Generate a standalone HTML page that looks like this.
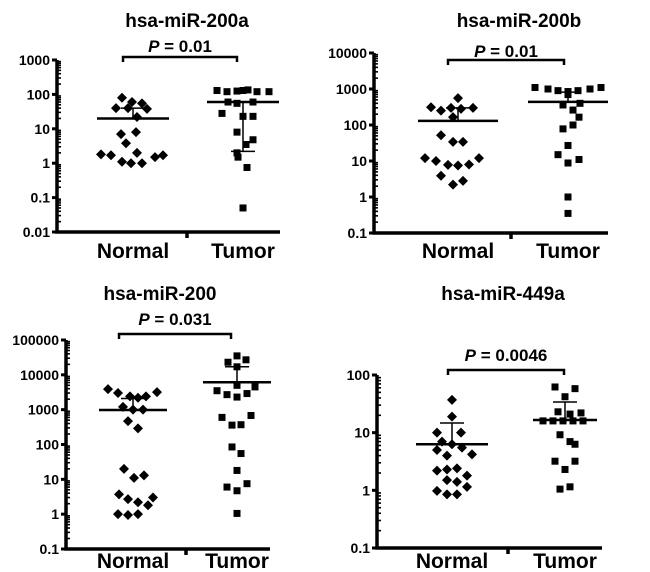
<!DOCTYPE html>
<html><head><meta charset="utf-8"><style>
body{margin:0;background:#fff}
svg{display:block}
text{font-family:"Liberation Sans",sans-serif;font-weight:bold;fill:#000}
</style></head><body>
<svg id="fig" width="650" height="572" viewBox="0 0 650 572"></svg>
<script>
// ---- data ----
const categories = ["Normal","Tumor"];
const titles = ["hsa-miR-200a","hsa-miR-200b","hsa-miR-200","hsa-miR-449a"];
const pLabels = ["0.01","0.01","0.031","0.0046"];
const tickLabels1 = ["0.01","0.1","1","10","100","1000"];
const tickLabels2 = ["0.1","1","10","100","1000","10000"];
const tickLabels3 = ["0.1","1","10","100","1000","10000","100000"];
const tickLabels4 = ["0.1","1","10","100"];
// panel values
const normal1 = [80,60,55,40,40,38,22,7,8,3.8,1.8,1.7,2,1.5,1.7,1.1,1.0,1.0];
const normal1J = [-11,-1,9,-17,-5,14,4,-12,3,-7,-32,-22,4,22,30,-11,-2,9];
const tumor1 = [130,120,125,130,135,120,120,55,60,60,28,23,23,8,4.8,3.5,2,1.5,0.75,0.05];
const tumor1J = [-26,-16,-6,0,5,14,26,-6,-15,10,-21,0,10,-6,10,3,-6,-5,4,0];
const normal1Mean = [20], normal1SD = [40, 20];
const tumor1Mean = [60], tumor1SD = [60, 2.2];

const normal2 = [560,310,250,300,280,300,165,52,34,34,12,10,7.8,7.5,8,12,3.9,2.8,2.2];
const normal2J = [0,-27,-17,-7,3,15,-5,-17,-5,5,-33,-22,-10,0,11,21,-17,5,-5];
const tumor2 = [1100,1000,900,850,900,1000,1100,700,360,400,260,165,100,78,27,15,11,8.8,1.0,0.35];
const tumor2J = [-33,-20,-10,0,10,22,33,0,-5,12,5,11,5,-5,0,-10,11,0,0,0];
const normal2Mean = [130], normal2SD = [300, 130];
const tumor2Mean = [440], tumor2SD = [820, 440];

const normal3 = [3900,3000,2400,2200,2400,3200,1200,1000,1000,470,290,20,11,13,3.7,2.7,2.2,1.8,3,1,0.95,1];
const normal3J = [-25,-15,-3,5,13,24,-10,0,10,-5,5,-9,1,11,-14,-5,5,15,20,-15,-5,5];
const tumor3 = [35000,27000,23000,17000,4500,5000,3500,2700,2300,2900,600,360,370,680,85,55,18,6,4.7,7.5,1.05];
const tumor3J = [0,9,-9,0,18,0,-20,-10,0,10,-15,-5,4,14,-5,4,0,-10,0,10,0];
const normal3Mean = [980], normal3SD = [2100, 980];
const tumor3Mean = [6100], tumor3SD = [17000, 6100];

const normal4 = [37,19,10,10,7,6.3,5,5.5,4,4.2,2.2,2.3,2.4,1.8,1.5,1.4,1.15,0.98,0.85,0.85];
const normal4J = [0,0,-15,9,-10,0,-15,10,-5,20,-15,-5,5,15,-5,5,15,-15,-5,5];
const tumor4 = [62,58,42,23,21,22,16,16,16,16,16,9.2,6.3,7,3.2,3.2,2.3,1.05,1.15];
const tumor4J = [-10,10,0,-7,5,16,-22,-12,-2,8,18,-5,10,5,-10,10,0,-5,5];
const normal4Mean = [6.3], normal4SD = [14.7, 6.3];
const tumor4Mean = [16.6], tumor4SD = [34, 16.6];

const NS="http://www.w3.org/2000/svg";
const svg=document.getElementById('fig');
function mk(tag,attrs,parent){const e=document.createElementNS(NS,tag);for(const k in attrs)e.setAttribute(k,attrs[k]);(parent||svg).appendChild(e);return e;}

function panel(cfg){
  const g=mk('g',{});
  
  
  const lo=Math.log10(cfg.min), hi=Math.log10(cfg.max);
  const y=v=>cfg.bottom-(Math.log10(v)-lo)/(hi-lo)*(cfg.bottom-cfg.top);
  const xN=cfg.xN, xT=cfg.xT;
  const t=mk('text',{x:cfg.titleX,y:cfg.titleY,'text-anchor':'middle','font-size':19},g);t.textContent=cfg.title;
  
  
  const p=mk('text',{x:(cfg.bx1+cfg.bx2)/2,y:cfg.pY,'text-anchor':'middle','font-size':17},g);
  
  
  const ps=mk('tspan',{'font-style':'italic'},p);ps.textContent='P';
  const pr=mk('tspan',{},p);pr.textContent=' = '+cfg.p;
  const br=mk('path',{d:`M${cfg.bx1} ${cfg.bY+5}V${cfg.bY}H${cfg.bx2}V${cfg.bY+5}`,fill:'none',stroke:'#000','stroke-width':2.5},g);
  
  
  const ax=mk('path',{d:`M${cfg.ax} ${cfg.top}V${cfg.bottom}H${cfg.xEnd}M${cfg.midTick} ${cfg.bottom}v6`,fill:'none',stroke:'#000','stroke-width':3.5},g);
  
  
  for(let d=Math.round(lo);d<=Math.round(hi);d++){
    const yy=y(Math.pow(10,d));
    mk('line',{x1:cfg.ax-5,x2:cfg.ax,y1:yy,y2:yy,stroke:'#000','stroke-width':3},g);
    const tl=mk('text',{x:cfg.ax-7,y:yy+5,'text-anchor':'end','font-size':14},g);
    tl.textContent=cfg.ticks[d-Math.round(lo)];
    
    
    if(d<Math.round(hi)) for(let m=2;m<10;m++){const ym=y(m*Math.pow(10,d));mk('line',{x1:cfg.ax,x2:cfg.ax+4,y1:ym,y2:ym,stroke:'#000','stroke-width':1.6},g);}
  }
  [[xN,categories[0]],[xT,categories[1]]].forEach(([x,c])=>{
    const l=mk('text',{x:x,y:cfg.labY,'text-anchor':'middle','font-size':21},g);l.textContent=c;
    
    
  });
  cfg.nv.forEach((v,i)=>{const cx=xN+cfg.nj[i],cy=y(v);
    const d=mk('path',{d:`M${cx} ${cy-5}L${cx+5} ${cy}L${cx} ${cy+5}L${cx-5} ${cy}Z`,fill:'#000'},g);
    
    });
  cfg.tv.forEach((v,i)=>{const cx=xT+cfg.tj[i],cy=y(v);
    const s=mk('rect',{x:cx-3.5,y:cy-3.5,width:7,height:7,fill:'#000'},g);
    
    });
  [[xN,cfg.nm,cfg.nsd,cfg.nw],[xT,cfg.tm,cfg.tsd,cfg.tw]].forEach(([x,m,sd,w])=>{
    const ym=y(m[0]);
    const ml=mk('line',{x1:x-w,x2:x+w,y1:ym,y2:ym,stroke:'#000','stroke-width':2.5},g);
    
    
    const e=mk('path',{d:`M${x} ${y(sd[0])}V${y(sd[1])}M${x-12} ${y(sd[0])}h24M${x-12} ${y(sd[1])}h24`,fill:'none',stroke:'#000','stroke-width':1.5},g);
    
    
  });
}
panel({id:'mir-200a',title:titles[0],p:pLabels[0],ticks:tickLabels1,min:0.01,max:1000,top:60,bottom:232,ax:57,xEnd:280,midTick:187,xN:133,xT:243,titleX:187,titleY:27,pY:52,bY:57,bx1:123,bx2:237,labY:258,nv:normal1,nj:normal1J,tv:tumor1,tj:tumor1J,nm:normal1Mean,nsd:normal1SD,tm:tumor1Mean,tsd:tumor1SD,nw:36,tw:36});
panel({id:'mir-200b',title:titles[1],p:pLabels[1],ticks:tickLabels2,min:0.1,max:10000,top:53,bottom:233,ax:374,xEnd:608,midTick:511,xN:458,xT:568,titleX:519,titleY:27,pY:57,bY:60,bx1:448,bx2:564,labY:258,nv:normal2,nj:normal2J,tv:tumor2,tj:tumor2J,nm:normal2Mean,nsd:normal2SD,tm:tumor2Mean,tsd:tumor2SD,nw:40,tw:40});
panel({id:'mir-200',title:titles[2],p:pLabels[2],ticks:tickLabels3,min:0.1,max:100000,top:340,bottom:549,ax:66,xEnd:270,midTick:186,xN:133,xT:237,titleX:160,titleY:300,pY:325,bY:334,bx1:119,bx2:231,labY:568,nv:normal3,nj:normal3J,tv:tumor3,tj:tumor3J,nm:normal3Mean,nsd:normal3SD,tm:tumor3Mean,tsd:tumor3SD,nw:34,tw:34});
panel({id:'mir-449a',title:titles[3],p:pLabels[3],ticks:tickLabels4,min:0.1,max:100,top:375,bottom:548,ax:377,xEnd:602,midTick:508,xN:452,xT:565,titleX:503,titleY:300,pY:361,bY:370,bx1:448,bx2:564,labY:568,nv:normal4,nj:normal4J,tv:tumor4,tj:tumor4J,nm:normal4Mean,nsd:normal4SD,tm:tumor4Mean,tsd:tumor4SD,nw:36,tw:32});
</script>
</body></html>
